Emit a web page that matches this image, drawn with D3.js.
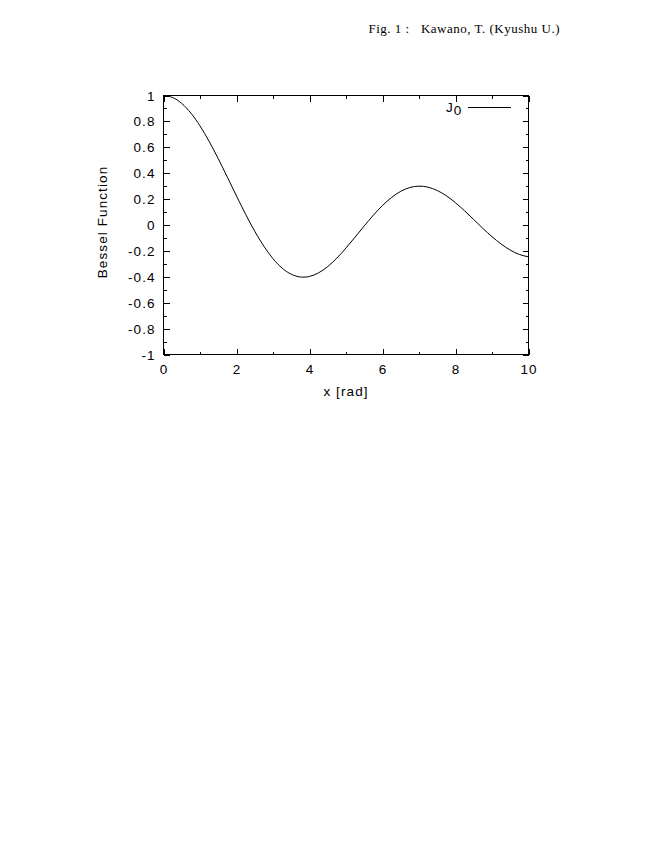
<!DOCTYPE html>
<html><head><meta charset="utf-8">
<script src="https://cdn.jsdelivr.net/npm/d3@7/dist/d3.min.js"></script>
<style>body{margin:0;background:#fff}svg{display:block}</style>
</head><body>
<svg id="c" width="652" height="848"></svg>
<script>
const xs = [0,0.25,0.5,0.75,1,1.25,1.5,1.75,2,2.25,2.5,2.75,3,3.25,3.5,3.75,4,4.25,4.5,4.75,5,5.25,5.5,5.75,6,6.25,6.5,6.75,7,7.25,7.5,7.75,8,8.25,8.5,8.75,9,9.25,9.5,9.75,10];
const j0 = [1.0,0.9844,0.9385,0.8642,0.7652,0.6459,0.5118,0.3690,0.2239,0.0827,-0.0484,-0.1641,-0.2601,-0.3328,-0.3801,-0.4014,-0.3971,-0.3692,-0.3205,-0.2551,-0.1776,-0.0931,-0.0068,0.0760,0.1506,0.2131,0.2601,0.2895,0.3001,0.2920,0.2663,0.2253,0.1717,0.1092,0.0419,-0.0262,-0.0903,-0.1469,-0.1939,-0.2276,-0.2459];
const xTicks = [0,2,4,6,8,10];
const xMinor = [1,3,5,7,9];
const yTicks = [-1,-0.8,-0.6,-0.4,-0.2,0,0.2,0.4,0.6,0.8,1];
const yMinor = [-0.9,-0.7,-0.5,-0.3,-0.1,0.1,0.3,0.5,0.7,0.9];
const title = "Fig. 1 :   Kawano, T. (Kyushu U.)";
const xLabel = "x [rad]";
const yLabel = "Bessel Function";
const seriesName = "J";
const seriesSub = "0";

const svg = d3.select("#c");
const L = 163.5, R = 528.5, T = 95.5, B = 354.5;
const x = d3.scaleLinear().domain([0,10]).range([L,R]);
const y = d3.scaleLinear().domain([-1,1]).range([B,T]);
const font = "'Liberation Sans', Arial, Helvetica, sans-serif";
const ls = 1.1;

svg.append("text").attr("x",560).attr("y",33).attr("text-anchor","end")
  .attr("font-family","'Liberation Serif','Times New Roman',serif").attr("font-size",13)
  .attr("letter-spacing",0.5)
  .style("white-space","pre").text(title);

const g = svg.append("g").attr("stroke","#000").attr("stroke-width",1).attr("shape-rendering","crispEdges");
g.append("rect").attr("x",L).attr("y",T).attr("width",R-L).attr("height",B-T).attr("fill","none");

const major = 6, minor = 3;
xTicks.concat(xMinor).forEach(v=>{
  const len = xTicks.includes(v)?major:minor;
  const px = Math.round(x(v))+0.5;
  g.append("line").attr("x1",px).attr("x2",px).attr("y1",B).attr("y2",B-len);
  g.append("line").attr("x1",px).attr("x2",px).attr("y1",T).attr("y2",T+len);
});
yTicks.concat(yMinor).forEach(v=>{
  const len = yTicks.some(t=>Math.abs(t-v)<1e-9)?major:minor;
  const py = Math.round(y(v))+0.5;
  g.append("line").attr("x1",L).attr("x2",L+len).attr("y1",py).attr("y2",py);
  g.append("line").attr("x1",R).attr("x2",R-len).attr("y1",py).attr("y2",py);
});

const lab = svg.append("g").attr("font-family",font).attr("font-size",13.5).attr("fill","#000")
  .attr("letter-spacing",ls);
xTicks.forEach(v=>{
  lab.append("text").attr("x",x(v)+ls/2).attr("y",B+19).attr("text-anchor","middle").text(d3.format("")(v));
});
yTicks.forEach(v=>{
  lab.append("text").attr("x",L-9+ls).attr("y",y(v)+5).attr("text-anchor","end").text(d3.format("")(v).replace("−","-"));
});
lab.append("text").attr("x",(L+R)/2).attr("y",396).attr("text-anchor","middle").text(xLabel);
lab.append("text").attr("transform",`translate(107,${(T+B)/2 - 3}) rotate(-90)`).attr("text-anchor","middle").text(yLabel);

const lg = lab.append("text").attr("x",446).attr("y",112);
lg.append("tspan").text(seriesName);
lg.append("tspan").attr("dy",3).text(seriesSub);
svg.append("line").attr("x1",468).attr("x2",511).attr("y1",107.5).attr("y2",107.5)
  .attr("stroke","#000").attr("stroke-width",1).attr("shape-rendering","crispEdges");

const data = xs.map((v,i)=>[v,j0[i]]);
svg.append("path").datum(data)
  .attr("d", d3.line().x(d=>x(d[0])).y(d=>y(d[1])).curve(d3.curveNatural))
  .attr("fill","none").attr("stroke","#000").attr("stroke-width",1);
</script>
</body></html>
